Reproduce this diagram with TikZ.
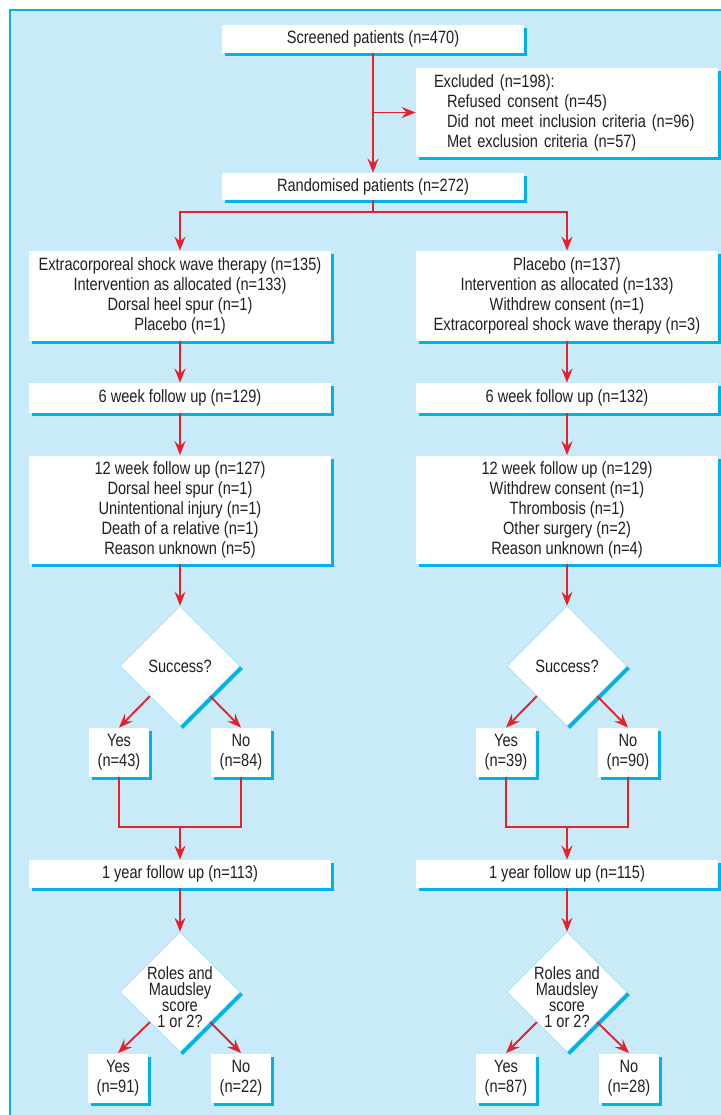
\documentclass[tikz,border=0pt]{standalone}
\usepackage{fontspec}
\setmainfont{Liberation Sans}[FakeStretch=0.82]
\usepackage{xcolor}
\usepackage{tikz}
\usetikzlibrary{shapes.geometric,arrows.meta,shadows,calc}
\definecolor{panelblue}{HTML}{C8EAF9}
\definecolor{shadowblue}{HTML}{00B2E9}
\definecolor{arrowred}{HTML}{E8202A}
\definecolor{textgray}{HTML}{231F20}
\tikzset{
	box/.style={fill=white, inner sep=0pt, align=center, text=textgray,
		font=\fontsize{8.9}{10}\selectfont,
		drop shadow={shadow xshift=1.5pt, shadow yshift=-1.5pt, fill=shadowblue, opacity=1}},
	wide/.style={box, minimum width=151pt},
	small/.style={box, minimum width=30pt, minimum height=24.5pt},
	decision/.style={diamond, aspect=1, fill=white, draw=shadowblue!35, line width=0.3pt,
		minimum width=60pt, minimum height=60pt, inner sep=0pt, text=textgray,
		font=\fontsize{8.9}{10}\selectfont,
		drop shadow={shadow xshift=1.5pt, shadow yshift=-1.5pt, fill=shadowblue, opacity=1}},
	dectext/.style={align=center, inner sep=0pt, text=textgray, font=\fontsize{8.9}{8}\selectfont},
	flow/.style={draw=arrowred, line width=0.95pt},
	arr/.style={flow, -{Stealth[length=7pt,width=5.5pt,inset=2.5pt]}}
}
\begin{document}
\begin{tikzpicture}[x=0.5pt,y=-0.5pt]
	\useasboundingbox (0,0) rectangle (721,1115);
	\fill[panelblue] (10,10) rectangle (721,1115);
	\draw[shadowblue,line width=0.75pt] (721,10) -- (10,10) -- (10,1115);
	\node[wide,minimum height=14pt] (scr) at (373,39) {Screened patients (n=470)};
	\node[wide,minimum height=44.5pt,inner xsep=9pt,text width=133pt,align=left] (excl) at (567,112.5) {Excluded (n=198):\\\hspace*{6.5pt}Refused consent (n=45)\\\hspace*{6.5pt}Did not meet inclusion criteria (n=96)\\\hspace*{6.5pt}Met exclusion criteria (n=57)};
	\node[wide,minimum height=13.5pt] (rand) at (373,186.5) {Randomised patients (n=272)};
	\node[wide,minimum height=45pt] (L1) at (180,296) {Extracorporeal shock wave therapy (n=135)\\Intervention as allocated (n=133)\\Dorsal heel spur (n=1)\\Placebo (n=1)};
	\node[wide,minimum height=45pt] (R1) at (567,296) {Placebo (n=137)\\Intervention as allocated (n=133)\\Withdrew consent (n=1)\\Extracorporeal shock wave therapy (n=3)};
	\node[wide,minimum height=15pt] (L6) at (180,398) {6 week follow up (n=129)};
	\node[wide,minimum height=15pt] (R6) at (567,398) {6 week follow up (n=132)};
	\node[wide,minimum height=54pt] (L12) at (180,509.5) {12 week follow up (n=127)\\Dorsal heel spur (n=1)\\Unintentional injury (n=1)\\Death of a relative (n=1)\\Reason unknown (n=5)};
	\node[wide,minimum height=54pt] (R12) at (567,509.5) {12 week follow up (n=129)\\Withdrew consent (n=1)\\Thrombosis (n=1)\\Other surgery (n=2)\\Reason unknown (n=4)};
	\node[decision] (dL) at (180,666) {Success?};
	\node[decision] (dR) at (567,666) {Success?};
	\node[small] (yesL) at (119,752.5) {Yes\\(n=43)};
	\node[small] (noL) at (241,752.5) {No\\(n=84)};
	\node[small] (yesR) at (506,752.5) {Yes\\(n=39)};
	\node[small] (noR) at (628,752.5) {No\\(n=90)};
	\node[wide,minimum height=14pt] (yL) at (180,874) {1 year follow up (n=113)};
	\node[wide,minimum height=14pt] (yR) at (567,874) {1 year follow up (n=115)};
	\node[decision] (d2L) at (180,992) {};
	\node[dectext] (q2L) at (180,997) {Roles and\\Maudsley\\score\\1 or 2?};
	\node[decision] (d2R) at (567,992) {};
	\node[dectext] (q2R) at (567,997) {Roles and\\Maudsley\\score\\1 or 2?};
	\node[small] (yes2L) at (118,1078) {Yes\\(n=91)};
	\node[small] (no2L) at (241,1078) {No\\(n=22)};
	\node[small] (yes2R) at (506,1078) {Yes\\(n=87)};
	\node[small] (no2R) at (629,1078) {No\\(n=28)};
	\coordinate (ex) at (scr.south |- excl.west);
	\coordinate (split) at (373,212);
	\coordinate (mL) at (180,827);
	\coordinate (mR) at (567,827);
	\draw[arr] (scr) -- (rand);
	\draw[arr] (ex) -- (excl);
	\draw[flow] (rand) -- (split);
	\draw[arr] (split) -| (L1);
	\draw[arr] (split) -| (R1);
	\draw[arr] (L1) -- (L6);
	\draw[arr] (R1) -- (R6);
	\draw[arr] (L6) -- (L12);
	\draw[arr] (R6) -- (R12);
	\draw[arr] (L12) -- (dL);
	\draw[arr] (R12) -- (dR);
	\draw[arr] (dL.south west) -- (yesL.north);
	\draw[arr] (dL.south east) -- (noL.north);
	\draw[arr] (dR.south west) -- (yesR.north);
	\draw[arr] (dR.south east) -- (noR.north);
	\draw[flow] (yesL) |- (mL) -| (noL);
	\draw[flow] (yesR) |- (mR) -| (noR);
	\draw[arr] (mL) -- (yL);
	\draw[arr] (mR) -- (yR);
	\draw[arr] (yL) -- (d2L);
	\draw[arr] (yR) -- (d2R);
	\draw[arr] (d2L.south west) -- (yes2L.north);
	\draw[arr] (d2L.south east) -- (no2L.north);
	\draw[arr] (d2R.south west) -- (yes2R.north);
	\draw[arr] (d2R.south east) -- (no2R.north);
\end{tikzpicture}
\end{document}
